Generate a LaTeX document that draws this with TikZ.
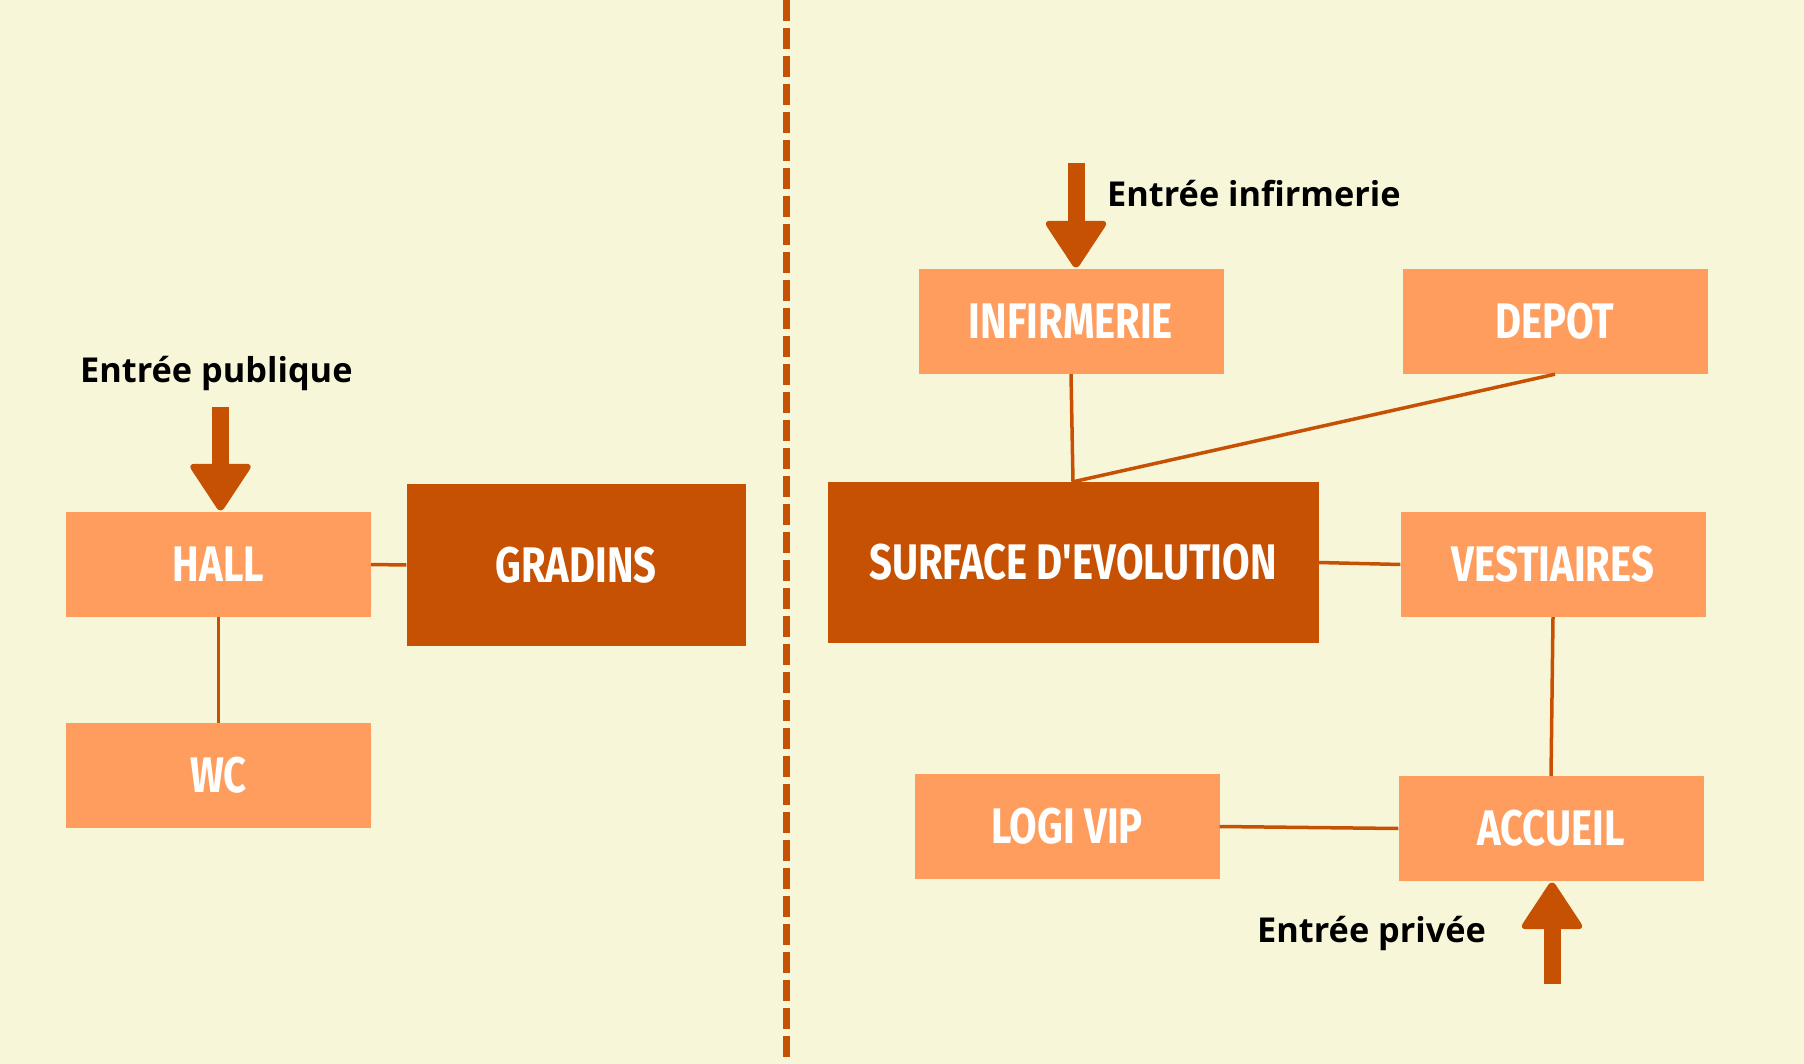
\documentclass[tikz,border=0pt]{standalone}
\usepackage{fontspec}
\setmainfont{Open Sans}
\newfontfamily\boxfont[FakeStretch=0.8]{Fira Sans}
\definecolor{bgc}{HTML}{F8F6D9}
\definecolor{lightor}{HTML}{FE9D5D}
\definecolor{darkor}{HTML}{C75103}
\tikzset{
  lbox/.style={rectangle, fill=lightor, minimum width=305pt, minimum height=105pt, inner sep=0pt,
    text=white, font=\boxfont\bfseries\fontsize{50}{50}\selectfont},
  dbox/.style={lbox, fill=darkor},
  conn/.style={draw=darkor, line width=3.5pt},
  lab/.style={anchor=base west, inner sep=0pt, font=\bfseries\fontsize{34.3}{35}\selectfont, text=black},
  bigarrow/.pic={
    \fill[darkor, rounded corners=7pt] (0,2) -- (-33,-48) -- (33,-48) -- cycle;
    \fill[darkor] (-8.5,-45) rectangle (8.5,-#1);
  }
}
\begin{document}
\begin{tikzpicture}[x=1pt, y=-1pt]
\fill[bgc] (0,0) rectangle (1804,1064);
\useasboundingbox (0,0) rectangle (1804,1064);

% divider
\coordinate (dtop) at (786,0);
\coordinate (dbot) at (786,1060);
\draw[darkor, line width=7pt, dash pattern=on 21pt off 7pt] (dtop) -- (dbot);

% left part
\node[lbox] (hall) at (218.5,564.5) {HALL};
\node[lbox] (wc) at (218.5,775.5) {WC};
\node[dbox, minimum width=339pt, minimum height=162pt] (gradins) at (576,565) {GRADINS};
\draw[conn] (hall.east) -- (gradins.west);
\draw[conn] (hall.south) -- (wc.north);

% right part
\node[lbox] (infirm) at (1071,321.5) {INFIRMERIE};
\node[lbox] (depot) at (1555,321.5) {DEPOT};
\node[dbox, minimum width=491pt, minimum height=161pt] (surface) at (1073,562.5) {SURFACE D'EVOLUTION};
\node[lbox] (vest) at (1553,564.5) {VESTIAIRES};
\node[lbox] (logi) at (1067,826.5) {LOGI VIP};
\node[lbox] (accueil) at (1551,828.5) {ACCUEIL};

\draw[conn] (infirm.south) -- (surface.north);
\draw[conn] (depot.south) -- (surface.north);
\draw[conn] (surface.east) -- (vest.west);
\draw[conn] (vest.south) -- (accueil.north);
\draw[conn] (logi.east) -- (accueil.west);

% entrance arrows
\pic at ([xshift=2pt]hall.north) {bigarrow=105};
\pic at ([xshift=5pt]infirm.north) {bigarrow=106};
\pic[rotate=180] at ([xshift=1pt]accueil.south) {bigarrow=103};

% labels
\node[lab] (lpub) at (80,383) {Entrée publique};
\node[lab] (linf) at (1107,207) {Entrée infirmerie};
\node[lab] (lpri) at (1257,942) {Entrée privée};
\end{tikzpicture}
\end{document}
